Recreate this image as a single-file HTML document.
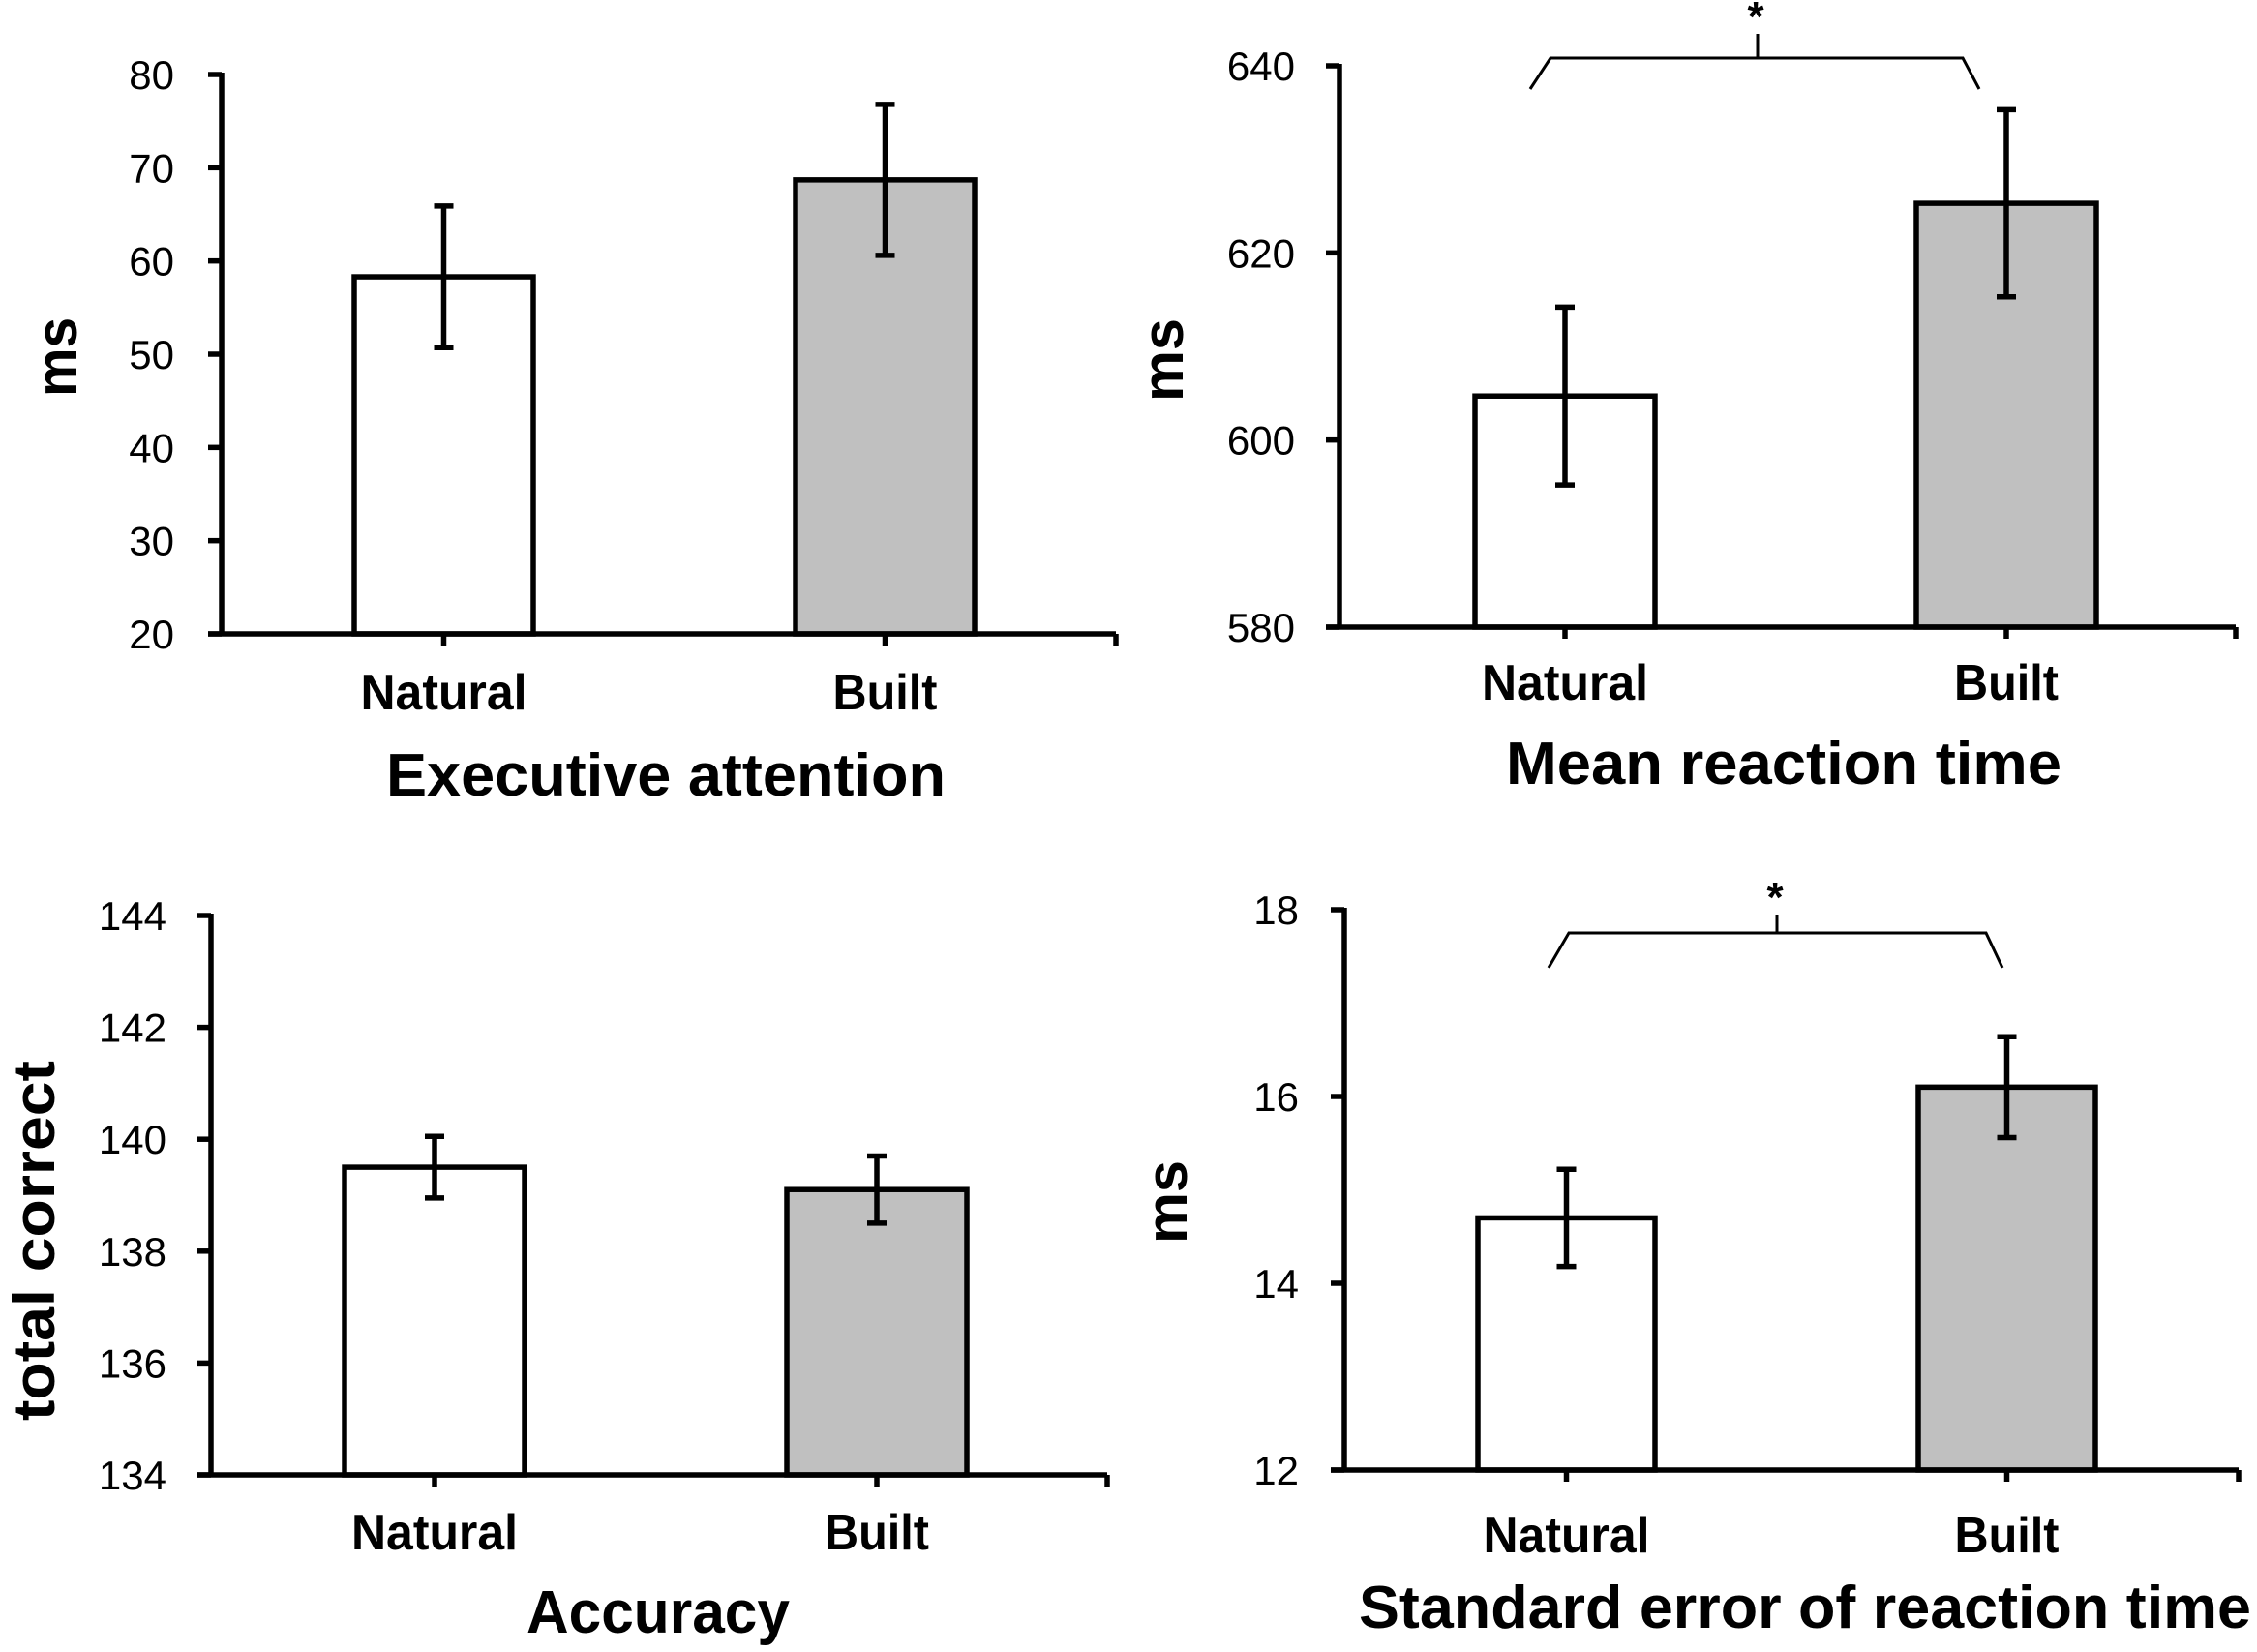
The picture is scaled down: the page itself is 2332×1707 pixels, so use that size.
<!DOCTYPE html>
<html><head><meta charset="utf-8"><style>
html,body{margin:0;padding:0;background:#fff}
svg{display:block}
text{font-family:"Liberation Sans",sans-serif;fill:#000}
</style></head><body>
<svg id="fig" width="2332" height="1707" viewBox="0 0 2332 1707" xmlns="http://www.w3.org/2000/svg"></svg>
<script>
// ---- data ----
const categories = ["Natural", "Built"];
const execMeans = [58.3, 68.7];
const execErr = [7.6, 8.1];
const execTicks = [20, 30, 40, 50, 60, 70, 80];
const mrtMeans = [604.7, 625.3];
const mrtErr = [9.5, 10.0];
const mrtTicks = [580, 600, 620, 640];
const accMeans = [139.5, 139.1];
const accErr = [0.55, 0.6];
const accTicks = [134, 136, 138, 140, 142, 144];
const serMeans = [14.7, 16.1];
const serErr = [0.52, 0.54];
const serTicks = [12, 14, 16, 18];

const NS = "http://www.w3.org/2000/svg";
const svg = document.getElementById('fig');
function mk(tag, attrs, parent) {
  const e = document.createElementNS(NS, tag);
  for (const k in attrs) e.setAttribute(k, attrs[k]);
  (parent || svg).appendChild(e);
  return e;
}
const panels = [
  {id:'executive-attention', means:execMeans, err:execErr, ticks:execTicks, ax:229, y0:655, y1:77, xEnd:1153,
   barL:[366,822], barW:185, tickLblX:180, catY:733, title:'Executive attention', titleX:688, titleY:822, titleW:578,
   ylab:'ms', ylabX:79, ylabY:369, ylabW:82, bracket:null},
  {id:'mean-reaction-time', means:mrtMeans, err:mrtErr, ticks:mrtTicks, ax:1384, y0:648, y1:68, xEnd:2310,
   barL:[1524,1980], barW:186, tickLblX:1338, catY:723, title:'Mean reaction time', titleX:1843, titleY:810, titleW:574,
   ylab:'ms', ylabX:1222, ylabY:372, ylabW:86, bracket:{y:60, x1:1602, x2:2028, lx1:1581, lx2:2045, ly:92, cx:1816, ty:35, sy:32}},
  {id:'accuracy', means:accMeans, err:accErr, ticks:accTicks, ax:218, y0:1524, y1:946, xEnd:1144,
   barL:[356,813], barW:186, tickLblX:172, catY:1601, title:'Accuracy', titleX:680, titleY:1687, titleW:272,
   ylab:'total correct', ylabX:56, ylabY:1282, ylabW:372, bracket:null},
  {id:'standard-error-reaction-time', means:serMeans, err:serErr, ticks:serTicks, ax:1389, y0:1519, y1:940, xEnd:2313,
   barL:[1527,1982], barW:183, tickLblX:1342, catY:1604, title:'Standard error of reaction time', titleX:1865, titleY:1682, titleW:922,
   ylab:'ms', ylabX:1226, ylabY:1242, ylabW:86, bracket:{y:964, x1:1621, x2:2052, lx1:1600, lx2:2069, ly:1000, cx:1836, ty:945, sy:942}}
];

panels.forEach(p => {
  const g = mk('g', {});
  
  
  const tmin = p.ticks[0], tmax = p.ticks[p.ticks.length - 1];
  const yS = v => p.y0 - (v - tmin) / (tmax - tmin) * (p.y0 - p.y1);
  p.means.forEach((m, i) => {
    const x = p.barL[i];
    const r = mk('rect', {x:x, y:yS(m), width:p.barW, height:p.y0 - yS(m), fill: i === 0 ? '#fff' : '#c0c0c0', stroke:'#000', 'stroke-width':5.5}, g);
    
    
  });
  p.means.forEach((m, i) => {
    const cx = p.barL[i] + p.barW / 2;
    const eg = mk('g', {stroke:'#000', 'stroke-width':5.5}, g);
    
    
    const hi = yS(m + p.err[i]), lo = yS(m - p.err[i]);
    mk('line', {x1:cx, x2:cx, y1:hi, y2:lo}, eg);
    mk('line', {x1:cx - 10, x2:cx + 10, y1:hi, y2:hi}, eg);
    mk('line', {x1:cx - 10, x2:cx + 10, y1:lo, y2:lo}, eg);
  });
  const ya = mk('g', {stroke:'#000', 'stroke-width':5.5}, g);
  
  
  mk('line', {x1:p.ax, x2:p.ax, y1:p.y1 - 2, y2:p.y0}, ya);
  p.ticks.forEach(t => {
    mk('line', {x1:p.ax - 14, x2:p.ax, y1:yS(t), y2:yS(t)}, ya);
    const tl = mk('text', {x:p.tickLblX, y:yS(t) + 15, 'text-anchor':'end', 'font-size':42, stroke:'none'}, g);
    
    
    tl.textContent = t;
  });
  const xa = mk('g', {stroke:'#000', 'stroke-width':5.5}, g);
  
  
  mk('line', {x1:p.ax - 14, x2:p.xEnd, y1:p.y0, y2:p.y0}, xa);
  mk('line', {x1:p.xEnd, x2:p.xEnd, y1:p.y0, y2:p.y0 + 12}, xa);
  categories.forEach((c, i) => {
    const cx = p.barL[i] + p.barW / 2;
    mk('line', {x1:cx, x2:cx, y1:p.y0, y2:p.y0 + 12}, xa);
    const cl = mk('text', {x:cx, y:p.catY, 'text-anchor':'middle', 'font-size':52, 'font-weight':'bold', textLength: i === 0 ? 172 : 108, lengthAdjust:'spacingAndGlyphs'}, g);
    
    
    cl.textContent = c;
  });
  const tt = mk('text', {x:p.titleX, y:p.titleY, 'text-anchor':'middle', 'font-size':62, 'font-weight':'bold', textLength:p.titleW, lengthAdjust:'spacingAndGlyphs'}, g);
  
  
  tt.textContent = p.title;
  const yl = mk('text', {x:0, y:0, 'text-anchor':'middle', 'font-size':60, 'font-weight':'bold', textLength:p.ylabW, lengthAdjust:'spacingAndGlyphs', transform:'translate(' + p.ylabX + ',' + p.ylabY + ') rotate(-90)'}, g);
  
  
  yl.textContent = p.ylab;
  if (p.bracket) {
    const b = p.bracket;
    const bg = mk('g', {stroke:'#000', 'stroke-width':3, fill:'none'}, g);
    
    
    mk('polyline', {points: b.lx1 + ',' + b.ly + ' ' + b.x1 + ',' + b.y + ' ' + b.x2 + ',' + b.y + ' ' + b.lx2 + ',' + b.ly}, bg);
    mk('line', {x1:b.cx, x2:b.cx, y1:b.ty, y2:b.y}, bg);
    const st = mk('text', {x:b.cx - 2, y:b.sy, 'text-anchor':'middle', 'font-size':44, 'font-weight':'bold'}, g);
    
    
    st.textContent = '*';
  }
});
</script>
</body></html>
